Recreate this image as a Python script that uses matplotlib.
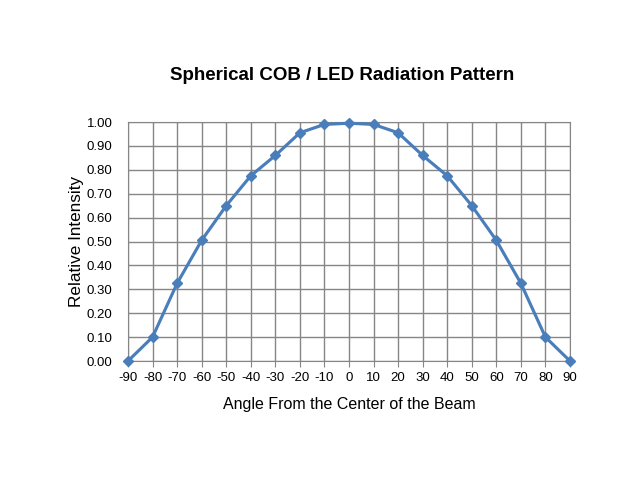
import matplotlib
matplotlib.use("Agg")
import matplotlib.pyplot as plt
import numpy as np

plt.rcParams["font.family"] = ["Liberation Sans", "DejaVu Sans"]

angles = [-90, -80, -70, -60, -50, -40, -30, -20, -10, 0, 10, 20, 30, 40, 50, 60, 70, 80, 90]
intensity = [0.0, 0.10, 0.325, 0.505, 0.65, 0.775, 0.86, 0.955, 0.99, 0.995,
             0.99, 0.955, 0.86, 0.775, 0.65, 0.505, 0.325, 0.10, 0.0]
xticks = list(range(-90, 91, 10))
yticks = [i / 10 for i in range(11)]

fig = plt.figure(figsize=(6.4, 4.8), dpi=100)
ax = fig.add_axes([0.2, 0.2479, 0.6906, 0.4979])
ax.plot(angles, intensity, color="#4A7EBB", linewidth=2.25, marker="D", markersize=5.5,
        markerfacecolor="#4A7EBB", markeredgecolor="#4A7EBB", clip_on=False, zorder=3)
ax.set_xlim(-90, 90)
ax.set_ylim(0, 1)
ax.set_xticks(xticks)
ax.set_xticklabels([str(t) for t in xticks], fontsize=9.5)
ax.set_yticks(yticks)
ax.set_yticklabels([f"{t:.2f}" for t in yticks], fontsize=9.5)
ax.grid(True, color="#868686", linewidth=1)
ax.set_axisbelow(True)
for s in ax.spines.values():
    s.set_color("#868686")
ax.tick_params(axis="x", length=4, color="#868686", pad=4)
ax.tick_params(axis="y", length=0, pad=11)
ax.set_xlabel("Angle From the Center of the Beam", fontsize=11.5, labelpad=9)
ax.set_ylabel("Relative Intensity", fontsize=12.3, labelpad=2)
fig.text(0.534, 0.842, "Spherical COB / LED Radiation Pattern", ha="center", va="center",
         fontsize=13.5, fontweight="bold")
fig.savefig("out.png", dpi=100)
